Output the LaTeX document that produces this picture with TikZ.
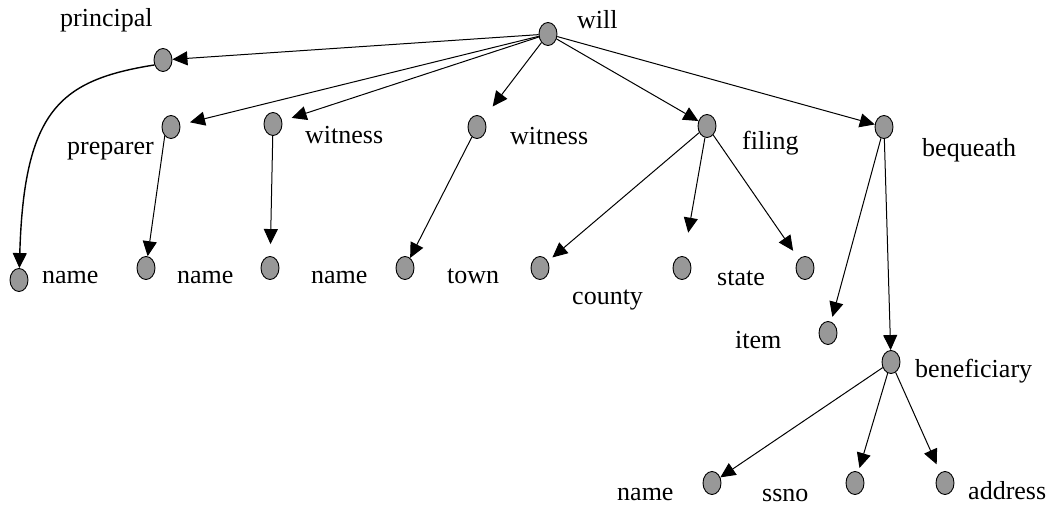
\documentclass[tikz,border=0pt]{standalone}
\usepackage{fontspec}
\setmainfont{Liberation Serif}
\usepackage{xcolor}
\usepackage{tikz}
\usetikzlibrary{shapes.geometric,arrows.meta}
\definecolor{dotgray}{RGB}{152,152,152}

\begin{document}
\begin{tikzpicture}[x=1pt,y=-1pt,
    every node/.style={font=\fontsize{26}{30}\selectfont},
    dot/.style={ellipse,draw,fill=dotgray,line width=0.9pt,minimum width=18pt,minimum height=23pt,inner sep=0pt},
    lbl/.style={anchor=base west,inner sep=0pt},
    arr/.style={-{Triangle[length=15pt,width=14pt]},line width=1pt}]
    \useasboundingbox (0,0) rectangle (1052,506);
    \node[dot] (will) at (548,34) {};
    \node[dot] (principal) at (163,60) {};
    \node[dot] (preparer) at (171,127) {};
    \node[dot] (witA) at (273,124) {};
    \node[dot] (witB) at (477,127) {};
    \node[dot] (filing) at (707,126) {};
    \node[dot] (bequeath) at (884,127) {};
    \node[dot] (pname) at (19,280) {};
    \node[dot] (prname) at (146,268) {};
    \node[dot] (wname) at (270,268) {};
    \node[dot] (town) at (405,268) {};
    \node[dot] (county) at (540,268) {};
    \node[dot] (state) at (682,268) {};
    \node[dot] (fext) at (805,268) {};
    \node[dot] (item) at (828,333) {};
    \node[dot] (benef) at (891,362) {};
    \node[dot] (bname) at (712,483) {};
    \node[dot] (bssno) at (855,483) {};
    \node[dot] (baddr) at (945,483) {};

    \node[lbl] (lwill) at (577,28) {will};
    \node[lbl] (lprincipal) at (60,27) {principal};
    \node[lbl] (lpreparer) at (67,154) {preparer};
    \node[lbl] (lwitA) at (305,143) {witness};
    \node[lbl] (lwitB) at (510,144) {witness};
    \node[lbl] (lfiling) at (742,149) {filing};
    \node[lbl] (lbequeath) at (922,156) {bequeath};
    \node[lbl] (lpname) at (42,283) {name};
    \node[lbl] (lprname) at (177,283) {name};
    \node[lbl] (lwname) at (311,283) {name};
    \node[lbl] (ltown) at (447,283) {town};
    \node[lbl] (lcounty) at (572,304) {county};
    \node[lbl] (lstate) at (717,285) {state};
    \node[lbl] (litem) at (735,348) {item};
    \node[lbl] (lbenef) at (915,377) {beneficiary};
    \node[lbl] (lbname) at (617,500) {name};
    \node[lbl] (lbssno) at (762,501) {ssno};
    \node[lbl] (lbaddr) at (968,499) {address};

    \draw[arr] (will) -- (principal);
    \draw[arr,shorten >=10pt] (will) -- (preparer);
    \draw[arr,shorten >=10pt] (will) -- (witA);
    \draw[arr,shorten >=15pt] (will) -- (witB);
    \draw[arr] (will) -- (filing);
    \draw[arr] (will) -- (bequeath);
    \draw[arr,line width=1.4pt] (principal.210) .. controls (60,80) and (24,110) .. (pname);
    \draw[arr] (preparer.235) -- (prname);
    \draw[arr,shorten >=12pt] (witA) -- (wname);
    \draw[arr] (witB) -- (town);
    \draw[arr,shorten >=6pt] (filing) -- (county);
    \draw[arr,shorten >=24pt] (filing) -- (state);
    \draw[arr,shorten >=10pt] (filing) -- (fext);
    \draw[arr,shorten >=5pt] (bequeath) -- (item);
    \draw[arr] (bequeath) -- (benef);
    \draw[arr] (benef) -- (bname);
    \draw[arr,shorten >=4pt] (benef) -- (bssno);
    \draw[arr,shorten >=9pt] (benef) -- (baddr);
\end{tikzpicture}
\end{document}
